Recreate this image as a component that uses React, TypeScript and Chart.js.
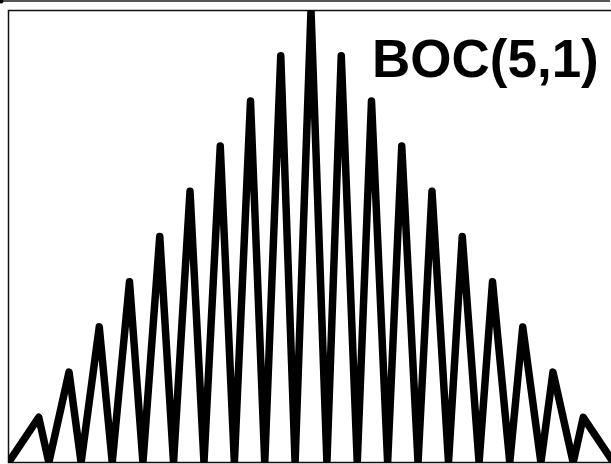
import React, { useEffect, useRef } from "react";
import { Chart, registerables } from "chart.js";

Chart.register(...registerables);

// Delay in chips (peaks and zero points of |R(tau)|)
const tau: number[] = [
  -1.0, -0.9, -0.8667, -0.8, -0.76, -0.7, -0.6571, -0.6, -0.5556, -0.5,
  -0.4545, -0.4, -0.3538, -0.3, -0.2533, -0.2, -0.1529, -0.1, -0.0526, 0.0,
  0.0526, 0.1, 0.1529, 0.2, 0.2533, 0.3, 0.3538, 0.4, 0.4545, 0.5,
  0.5556, 0.6, 0.6571, 0.7, 0.76, 0.8, 0.8667, 0.9, 1.0,
];
// Normalised |ACF| values
const acf: number[] = [
  0, 0.1, 0, 0.2, 0, 0.3, 0, 0.4, 0, 0.5,
  0, 0.6, 0, 0.7, 0, 0.8, 0, 0.9, 0, 1.0,
  0, 0.9, 0, 0.8, 0, 0.7, 0, 0.6, 0, 0.5,
  0, 0.4, 0, 0.3, 0, 0.2, 0, 0.1, 0,
];
const label = "BOC(5,1)";

export default function App() {
  const ref = useRef<HTMLCanvasElement | null>(null);
  useEffect(() => {
    if (!ref.current) return;
    const deco = {
      id: "deco",
      beforeDatasetsDraw(chart: any) {
        const { ctx, chartArea: a } = chart;
        ctx.save();
        ctx.strokeStyle = "#555";
        ctx.lineWidth = 2;
        ctx.beginPath();
        ctx.moveTo(0, 1);
        ctx.lineTo(610, 1);
        ctx.stroke();
        ctx.fillStyle = "#000";
        ctx.beginPath();
        ctx.arc(1.5, 1.5, 2, 0, Math.PI * 2);
        ctx.fill();
        ctx.strokeStyle = "#111";
        ctx.lineWidth = 1.5;
        ctx.strokeRect(a.left, a.top, a.right - a.left, a.bottom - a.top);
        ctx.restore();
      },
      afterDatasetsDraw(chart: any) {
        const { ctx } = chart;
        ctx.save();
        ctx.fillStyle = "#000";
        ctx.font = "bold 53px 'Liberation Sans', Arial, sans-serif";
        ctx.textBaseline = "alphabetic";
        ctx.fillText(label, 372, 77);
        ctx.restore();
      },
    };
    const chart = new Chart(ref.current, {
      type: "line",
      data: {
        datasets: [
          {
            data: tau.map((t, i) => ({ x: t, y: acf[i] })),
            borderColor: "#000",
            borderWidth: 7.5,
            borderJoinStyle: "round",
            borderCapStyle: "round",
            pointRadius: 0,
            tension: 0,
            fill: false,
          },
        ],
      },
      options: {
        animation: false,
        responsive: false,
        layout: { padding: { left: 8.5, right: 6.5, top: 10.5, bottom: 1.5 } },
        plugins: { legend: { display: false }, tooltip: { enabled: false } },
        scales: {
          x: { type: "linear", min: -1, max: 1, display: false },
          y: { type: "linear", min: 0, max: 1, display: false },
        },
      },
      plugins: [deco],
    });
    return () => chart.destroy();
  }, []);
  return (
    <div style={{ position: "fixed", left: 0, top: 0, width: 611, height: 464, overflow: "hidden", background: "#fff" }}>
      <canvas ref={ref} width={620} height={464} style={{ display: "block" }} />
    </div>
  );
}
